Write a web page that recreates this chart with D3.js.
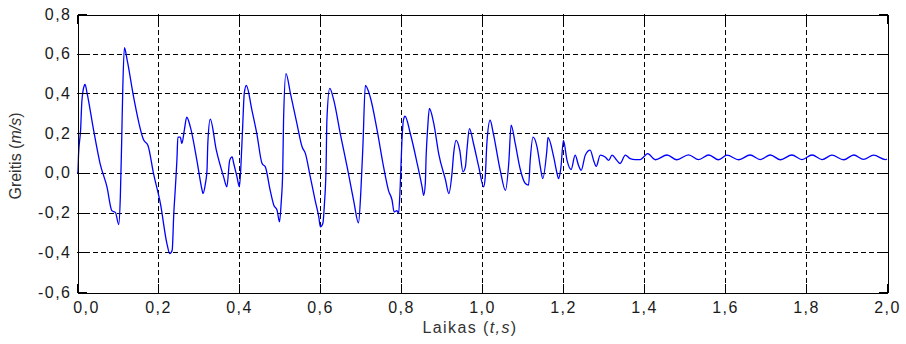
<!DOCTYPE html>
<html>
<head>
<meta charset="utf-8">
<script src="https://cdn.jsdelivr.net/npm/d3@7"></script>
<style>
  html, body { margin: 0; padding: 0; background: #fff; }
  svg { display: block; }
  text { font-family: "Liberation Sans", Arial, sans-serif; }
</style>
</head>
<body>
<svg id="chart" width="906" height="344"></svg>
<script>
// ---- data ----
const timeValues = [
  0.000, 0.002, 0.004, 0.009, 0.012, 0.018, 0.020, 0.025, 0.041, 0.057, 0.074, 0.086, 0.095, 0.103,
  0.107, 0.110, 0.113, 0.117, 0.124, 0.140, 0.165, 0.175, 0.189, 0.206, 0.222, 0.229, 0.235, 0.239,
  0.243, 0.247, 0.249, 0.255, 0.259, 0.265, 0.271, 0.280, 0.296, 0.309, 0.311, 0.317, 0.321, 0.323,
  0.329, 0.344, 0.362, 0.370, 0.377, 0.383, 0.387, 0.395, 0.401, 0.405, 0.409, 0.413, 0.418, 0.432,
  0.444, 0.457, 0.465, 0.477, 0.486, 0.494, 0.500, 0.504, 0.508, 0.510, 0.516, 0.527, 0.543, 0.556,
  0.564, 0.576, 0.588, 0.597, 0.601, 0.607, 0.611, 0.615, 0.617, 0.624, 0.634, 0.650, 0.667, 0.683,
  0.695, 0.701, 0.706, 0.712, 0.724, 0.741, 0.757, 0.769, 0.778, 0.783, 0.790, 0.794, 0.798, 0.802,
  0.806, 0.810, 0.823, 0.840, 0.852, 0.856, 0.860, 0.862, 0.866, 0.870, 0.881, 0.893, 0.910, 0.918,
  0.926, 0.930, 0.936, 0.945, 0.953, 0.959, 0.963, 0.969, 0.979, 0.992, 1.004, 1.008, 1.012, 1.020,
  1.028, 1.045, 1.058, 1.066, 1.072, 1.082, 1.094, 1.107, 1.115, 1.119, 1.126, 1.136, 1.144, 1.150,
  1.160, 1.163, 1.177, 1.185, 1.189, 1.195, 1.201, 1.210, 1.220, 1.230, 1.238, 1.245, 1.255, 1.267,
  1.276, 1.282, 1.292, 1.304, 1.313, 1.321, 1.333, 1.341, 1.354, 1.366, 1.378, 1.391, 1.399, 1.409,
  1.428, 1.457, 1.481, 1.510, 1.535, 1.560, 1.584, 1.605, 1.634, 1.662, 1.687, 1.712, 1.737, 1.765,
  1.790, 1.815, 1.840, 1.864, 1.893, 1.918, 1.942, 1.967, 1.996, 2.000
];
const speedValues = [
  0.000, 0.000, 0.100, 0.220, 0.360, 0.440, 0.445, 0.400, 0.215, 0.047, -0.071, -0.190, -0.200, -0.260,
  -0.120, 0.130, 0.420, 0.630, 0.567, 0.380, 0.164, 0.139, -0.004, -0.155, -0.356, -0.407, -0.390, -0.205,
  -0.070, 0.080, 0.180, 0.180, 0.148, 0.215, 0.280, 0.230, 0.063, -0.088, -0.104, -0.054, 0.013, 0.148,
  0.270, 0.114, -0.020, -0.070, 0.063, 0.080, 0.047, -0.020, -0.070, 0.047, 0.230, 0.400, 0.440, 0.315,
  0.198, 0.047, 0.030, -0.088, -0.163, -0.188, -0.247, -0.155, 0.013, 0.265, 0.500, 0.400, 0.248, 0.130,
  0.097, -0.020, -0.138, -0.222, -0.272, -0.255, -0.155, 0.030, 0.265, 0.425, 0.366, 0.198, 0.030, -0.138,
  -0.252, -0.088, 0.139, 0.440, 0.382, 0.215, 0.030, -0.088, -0.138, -0.197, -0.190, -0.205, -0.070, 0.148,
  0.265, 0.285, 0.198, 0.047, -0.070, -0.113, -0.054, 0.080, 0.230, 0.324, 0.248, 0.097, -0.037, -0.104,
  0.000, 0.097, 0.164, 0.114, 0.005, 0.030, 0.120, 0.223, 0.148, 0.030, -0.070, -0.020, 0.148, 0.265,
  0.198, 0.013, -0.088, 0.047, 0.240, 0.148, 0.022, -0.054, -0.062, 0.063, 0.180, 0.130, 0.030, -0.029,
  0.110, 0.178, 0.080, 0.000, -0.029, 0.030, 0.164, 0.063, 0.017, 0.089, 0.040, 0.013, 0.089, 0.114,
  0.060, 0.033, 0.089, 0.080, 0.063, 0.089, 0.063, 0.047, 0.089, 0.072, 0.067, 0.067, 0.080, 0.097,
  0.066, 0.090, 0.066, 0.091, 0.067, 0.090, 0.066, 0.089, 0.066, 0.090, 0.067, 0.090, 0.066, 0.090,
  0.067, 0.090, 0.067, 0.089, 0.066, 0.090, 0.068, 0.089, 0.067, 0.070
];
const xTickValues = [0, 0.2, 0.4, 0.6, 0.8, 1.0, 1.2, 1.4, 1.6, 1.8, 2.0];
const xTickLabels = ["0,0", "0,2", "0,4", "0,6", "0,8", "1,0", "1,2", "1,4", "1,6", "1,8", "2,0"];
const yTickValues = [-0.6, -0.4, -0.2, 0.0, 0.2, 0.4, 0.6, 0.8];
const yTickLabels = ["-0,6", "-0,4", "-0,2", "0,0", "0,2", "0,4", "0,6", "0,8"];
const xAxisTitle = "Laikas";
const yAxisTitle = "Greitis";

// ---- layout ----
const svg = d3.select("#chart");
const L = 77, R = 887, T = 14, B = 292;
const x = d3.scaleLinear().domain([0, 2]).range([L, R]);
const y = d3.scaleLinear().domain([-0.6, 0.8]).range([B, T]);
const tickLen = 9;

// grid
const grid = svg.append("g").attr("shape-rendering", "crispEdges");
grid.selectAll("line.vg").data(xTickValues.slice(1, -1)).enter().append("line")
  .attr("x1", d => Math.round(x(d)) + 0.5).attr("x2", d => Math.round(x(d)) + 0.5)
  .attr("y1", T).attr("y2", B)
  .attr("stroke", "#000").attr("stroke-width", 1).attr("stroke-dasharray", "5,3");
grid.selectAll("line.hg").data(yTickValues.slice(1, -1)).enter().append("line")
  .attr("y1", d => Math.round(y(d)) + 0.5).attr("y2", d => Math.round(y(d)) + 0.5)
  .attr("x1", L).attr("x2", R)
  .attr("stroke", "#000").attr("stroke-width", 1).attr("stroke-dasharray", "5,3");

// data line
const pts = timeValues.map((t, i) => [t, speedValues[i]]);
svg.append("path")
  .datum(pts)
  .attr("fill", "none")
  .attr("stroke", "#0000ff")
  .attr("stroke-width", 1.3)
  .attr("stroke-linejoin", "round")
  .attr("d", d3.line().x(d => x(d[0])).y(d => y(d[1])).curve(d3.curveMonotoneX));

// axes with inside ticks on all four sides
const fmtX = (d, i) => xTickLabels[i];
const fmtY = (d, i) => yTickLabels[i];
const gBottom = svg.append("g").attr("transform", `translate(0,${B + 0.5})`)
  .call(d3.axisBottom(x).tickValues(xTickValues).tickFormat(fmtX).tickSizeInner(-tickLen).tickSizeOuter(0).tickPadding(18));
const gTop = svg.append("g").attr("transform", `translate(0,${T + 0.5})`)
  .call(d3.axisTop(x).tickValues(xTickValues).tickFormat("").tickSizeInner(-tickLen).tickSizeOuter(0));
const gLeft = svg.append("g").attr("transform", `translate(${L + 0.5},0)`)
  .call(d3.axisLeft(y).tickValues(yTickValues).tickFormat(fmtY).tickSizeInner(-tickLen).tickSizeOuter(0).tickPadding(6));
const gRight = svg.append("g").attr("transform", `translate(${R + 0.5},0)`)
  .call(d3.axisRight(y).tickValues(yTickValues).tickFormat("").tickSizeInner(-tickLen).tickSizeOuter(0));

[gBottom, gTop, gLeft, gRight].forEach(g => {
  g.attr("shape-rendering", "crispEdges");
  g.select(".domain").attr("stroke", "#000").attr("stroke-width", 1);
  g.selectAll(".tick line").attr("stroke", "#000").attr("stroke-width", 1);
  g.selectAll(".tick text")
    .attr("fill", "#1a1a1a")
    .style("font-family", '"Liberation Sans", Arial, sans-serif')
    .style("font-size", "16px")
    .style("letter-spacing", "1.5px");
});
// shift first x label right (as in reference)
gBottom.selectAll(".tick text").filter((d, i) => i === 0).attr("dx", "9");
gBottom.selectAll(".tick text").attr("dy", "0.35em").attr("y", 15);

// axis titles
const xt = svg.append("text")
  .attr("x", 470).attr("y", 333)
  .attr("text-anchor", "middle")
  .attr("fill", "#333")
  .style("font-size", "16px")
  .style("letter-spacing", "1.4px");
xt.append("tspan").text(xAxisTitle + " (");
xt.append("tspan").attr("font-style", "italic").text("t,s");
xt.append("tspan").text(")");

const yt = svg.append("text")
  .attr("transform", `translate(21,156) rotate(-90)`)
  .attr("text-anchor", "middle")
  .attr("fill", "#333")
  .style("font-size", "16px");
yt.append("tspan").text(yAxisTitle + " (");
yt.append("tspan").attr("font-style", "italic").text("m/s");
yt.append("tspan").text(")");
</script>
</body>
</html>
